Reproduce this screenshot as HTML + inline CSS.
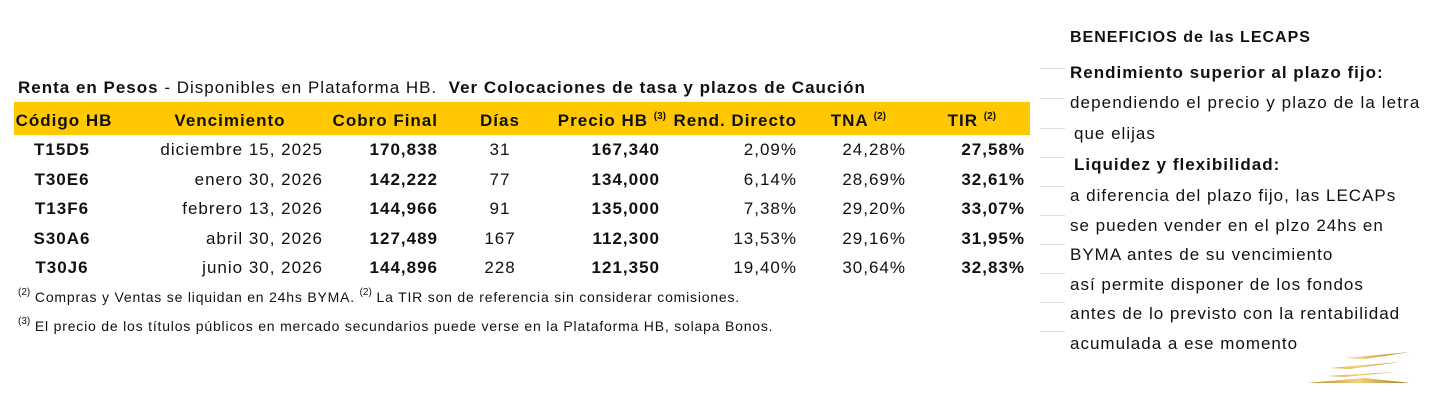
<!DOCTYPE html>
<html><head><meta charset="utf-8"><style>
body{margin:0;width:1432px;height:400px;background:#fff;font-family:"Liberation Sans",sans-serif;color:#111;position:relative;overflow:hidden}
.a{position:absolute;white-space:nowrap;font-size:17px;line-height:20px;letter-spacing:1px}
.b{font-weight:bold}
.r{text-align:right}
.c{text-align:center}
sup{font-size:10px;vertical-align:7px;line-height:0;letter-spacing:0}
.g{position:absolute;left:1040px;width:25px;height:1px;background:#e0e0e0}
</style></head><body>
<div class="a" style="left:18px;top:78px"><b>Renta en Pesos</b> - Disponibles en Plataforma HB. &nbsp;<b>Ver Colocaciones de tasa y plazos de Caución</b></div>
<div style="position:absolute;left:14px;top:102px;width:1016px;height:33px;background:#ffc800"></div>
<div class="a b c" style="left:14px;width:100px;top:111px">Código HB</div>
<div class="a b c" style="left:160px;width:140px;top:111px">Vencimiento</div>
<div class="a b r" style="left:280px;width:158px;top:111px">Cobro Final</div>
<div class="a b c" style="left:460px;width:80px;top:111px">Días</div>
<div class="a b r" style="left:500px;width:166px;top:111px">Precio HB <sup>(3)</sup></div>
<div class="a b r" style="left:640px;width:157px;top:111px">Rend. Directo</div>
<div class="a b r" style="left:800px;width:86px;top:111px">TNA <sup>(2)</sup></div>
<div class="a b r" style="left:900px;width:96px;top:111px">TIR <sup>(2)</sup></div>

<div id="rows"></div>
<script>
var d=[["T15D5","diciembre 15, 2025","170,838","31","167,340","2,09%","24,28%","27,58%"],
["T30E6","enero 30, 2026","142,222","77","134,000","6,14%","28,69%","32,61%"],
["T13F6","febrero 13, 2026","144,966","91","135,000","7,38%","29,20%","33,07%"],
["S30A6","abril 30, 2026","127,489","167","112,300","13,53%","29,16%","31,95%"],
["T30J6","junio 30, 2026","144,896","228","121,350","19,40%","30,64%","32,83%"]];
var h="";d.forEach(function(r,i){var t=140+i*29.5;
h+='<div class="a b c" style="left:12px;width:100px;top:'+t+'px">'+r[0]+'</div>'+
'<div class="a r" style="left:100px;width:223px;top:'+t+'px">'+r[1]+'</div>'+
'<div class="a b r" style="left:330px;width:108px;top:'+t+'px">'+r[2]+'</div>'+
'<div class="a c" style="left:460px;width:80px;top:'+t+'px">'+r[3]+'</div>'+
'<div class="a b r" style="left:550px;width:110px;top:'+t+'px">'+r[4]+'</div>'+
'<div class="a r" style="left:690px;width:107px;top:'+t+'px">'+r[5]+'</div>'+
'<div class="a r" style="left:800px;width:106px;top:'+t+'px">'+r[6]+'</div>'+
'<div class="a b r" style="left:920px;width:105px;top:'+t+'px">'+r[7]+'</div>';});
document.getElementById("rows").innerHTML=h;
</script>
<div class="a" style="left:18px;top:287px;font-size:14px;letter-spacing:.8px"><sup>(2)</sup> Compras y Ventas se liquidan en 24hs BYMA. <sup>(2)</sup> La TIR son de referencia sin considerar comisiones.</div>
<div class="a" style="left:18px;top:316px;font-size:14px;letter-spacing:.8px"><sup>(3)</sup> El precio de los títulos públicos en mercado secundarios puede verse en la Plataforma HB, solapa Bonos.</div>

<div class="g" style="top:68px"></div><div class="g" style="top:98px"></div><div class="g" style="top:128px"></div><div class="g" style="top:157px"></div><div class="g" style="top:186px"></div><div class="g" style="top:215px"></div><div class="g" style="top:244px"></div><div class="g" style="top:273px"></div><div class="g" style="top:302px"></div><div class="g" style="top:331px"></div>

<div class="a b" style="left:1070px;top:28px;font-size:16px">BENEFICIOS de las LECAPS</div>
<div class="a b" style="left:1070px;top:63px">Rendimiento superior al plazo fijo:</div>
<div class="a" style="left:1070px;top:93px;letter-spacing:1.1px">dependiendo el precio y plazo de la letra</div>
<div class="a" style="left:1074px;top:124px">que elijas</div>
<div class="a b" style="left:1074px;top:155px">Liquidez y flexibilidad:</div>
<div class="a" style="left:1070px;top:186px">a diferencia del plazo fijo, las LECAPs</div>
<div class="a" style="left:1070px;top:216px">se pueden vender en el plzo 24hs en</div>
<div class="a" style="left:1070px;top:245px">BYMA antes de su vencimiento</div>
<div class="a" style="left:1070px;top:275px">así permite disponer de los fondos</div>
<div class="a" style="left:1070px;top:304px">antes de lo previsto con la rentabilidad</div>
<div class="a" style="left:1070px;top:334px">acumulada a ese momento</div>
<svg style="position:absolute;left:1305px;top:350px" width="110" height="35">
<defs><linearGradient id="gg" x1="0" x2="1"><stop offset="0" stop-color="#b8862b"/><stop offset=".5" stop-color="#f3d27a"/><stop offset="1" stop-color="#a8761b"/></linearGradient></defs>
<path d="M40 8 L105 2 L60 9 Z M25 18 L95 12 L45 19 Z M22 26 L90 22 L40 27 Z M2 33 L60 28 L105 33 Z" fill="url(#gg)"/>
</svg>
</body></html>
